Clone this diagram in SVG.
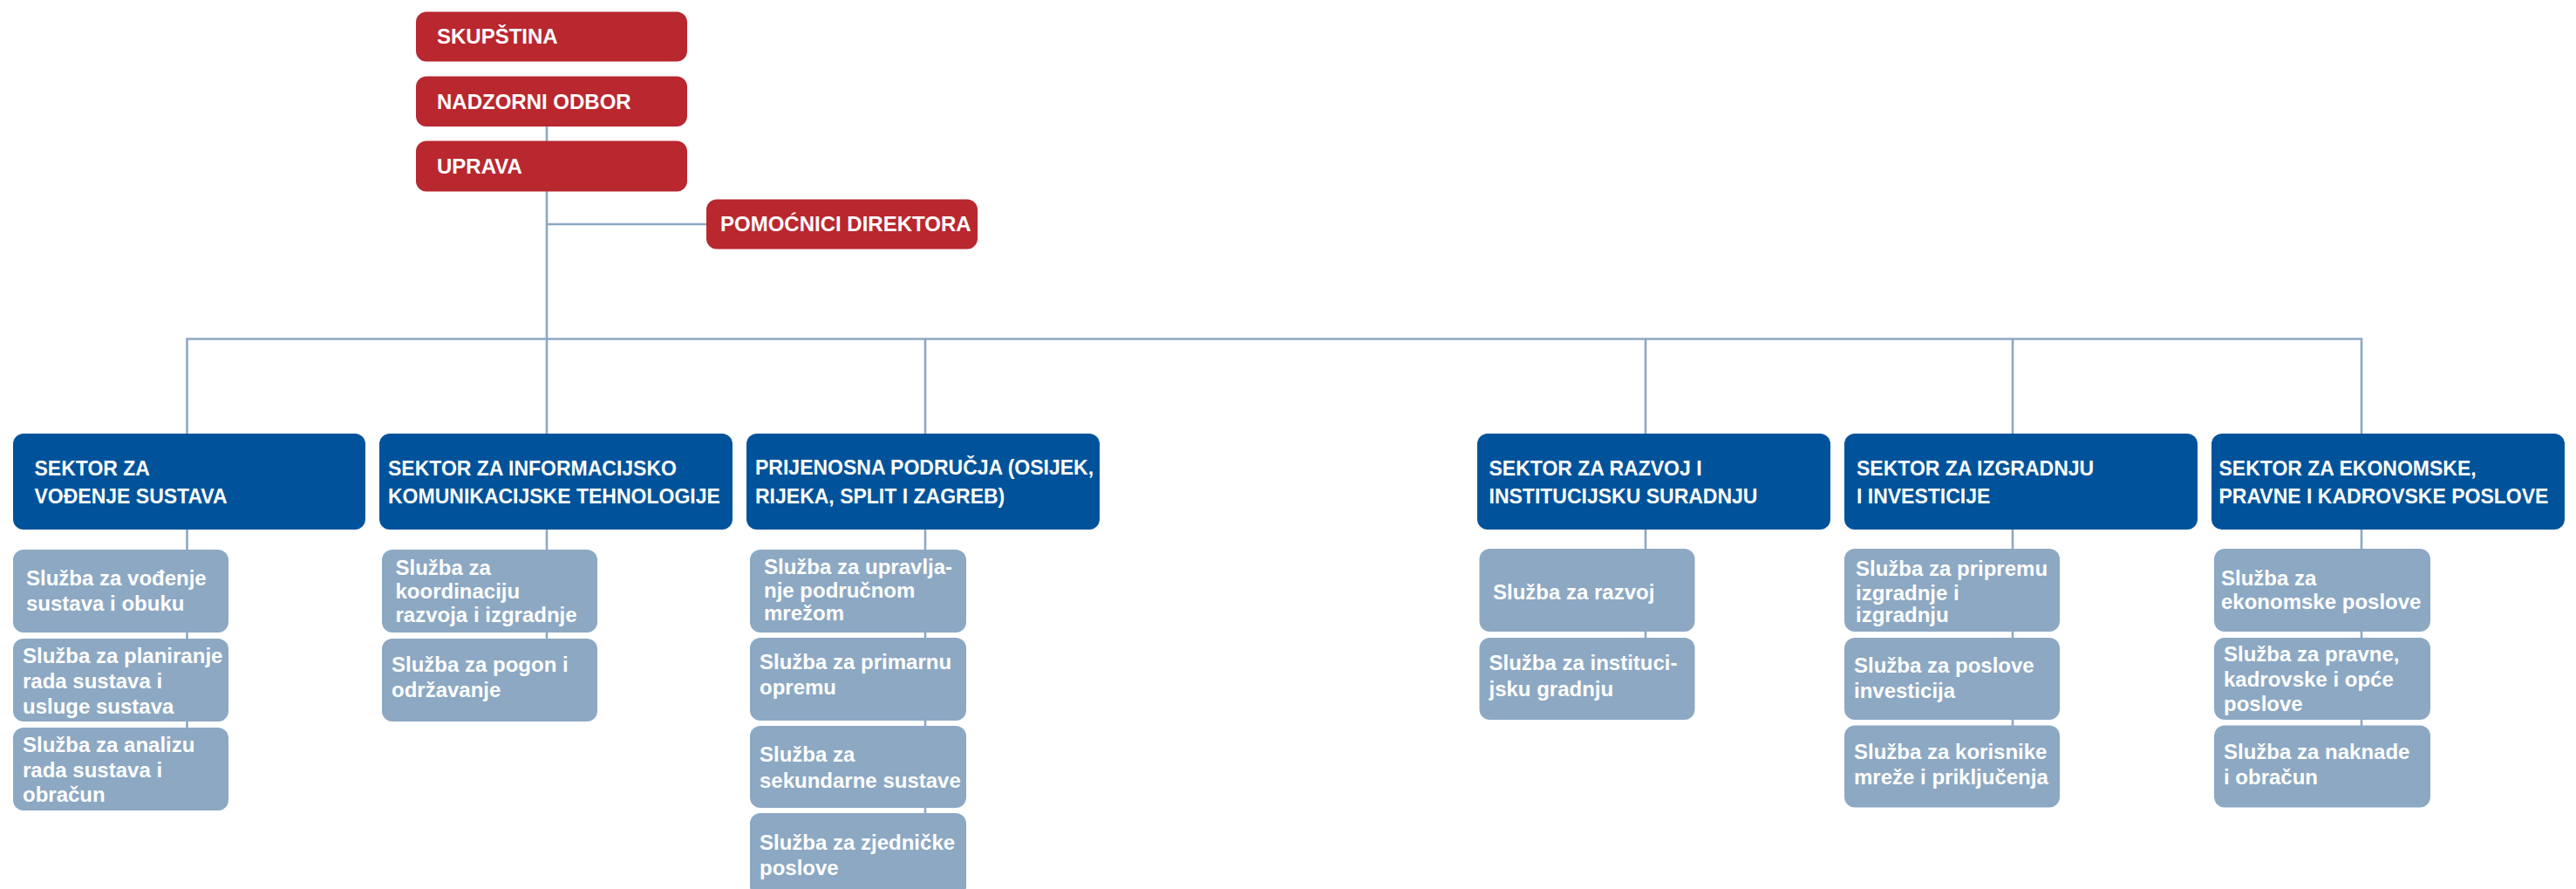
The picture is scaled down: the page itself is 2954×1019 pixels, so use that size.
<svg xmlns="http://www.w3.org/2000/svg" width="2954" height="1019" viewBox="0 0 2954 1019">
<style>
.red{fill:#b9272f}
.sec{fill:#00539a}
.srv{fill:#8ca8c3}
text{font-family:"Liberation Sans",Arial,sans-serif;font-weight:bold;fill:#ffffff}
.t24{font-size:24px}
.t23{font-size:23px}
.ln{fill:none;stroke:#8ca8c3;stroke-width:2.6}
</style>
<rect width="2954" height="1019" fill="#ffffff"/>
<g id="connectors">
<path class="ln" d="M627 145 V497"/>
<path class="ln" d="M627 257 H810"/>
<path class="ln" d="M214.5 497 V388.5 H2708 V497"/>
<path class="ln" d="M1061 388.5 V497"/>
<path class="ln" d="M1887 388.5 V497"/>
<path class="ln" d="M2308 388.5 V497"/>
<path class="ln" d="M214.5 607 V880"/>
<path class="ln" d="M627 607 V780"/>
<path class="ln" d="M1061 607 V980"/>
<path class="ln" d="M1887 607 V780"/>
<path class="ln" d="M2308 607 V880"/>
<path class="ln" d="M2708 607 V880"/>
</g>
<g id="skupstina"><rect class="red" x="477" y="13.5" width="311" height="57" rx="12"/><text class="t24" x="501" y="50">SKUPŠTINA</text></g>
<g id="nadzorni"><rect class="red" x="477" y="87.5" width="311" height="57.5" rx="12"/><text class="t24" x="501" y="124.5">NADZORNI ODBOR</text></g>
<g id="uprava"><rect class="red" x="477" y="161.5" width="311" height="58" rx="12"/><text class="t24" x="501" y="198.5">UPRAVA</text></g>
<g id="pomocnici"><rect class="red" x="810" y="228.5" width="311" height="57" rx="12"/><text class="t24" x="826" y="265">POMOĆNICI DIREKTORA</text></g>

<g id="sektor1"><rect class="sec" x="15" y="497" width="404" height="110" rx="12"/><text class="t23" x="39.5" y="545">SEKTOR ZA</text><text class="t23" x="39.5" y="577">VOĐENJE SUSTAVA</text></g>
<g id="sektor2"><rect class="sec" x="435" y="497" width="405" height="110" rx="12"/><text class="t23" x="445" y="545">SEKTOR ZA INFORMACIJSKO</text><text class="t23" x="445" y="577">KOMUNIKACIJSKE TEHNOLOGIJE</text></g>
<g id="sektor3"><rect class="sec" x="856" y="497" width="405" height="110" rx="12"/><text class="t23" x="866" y="544">PRIJENOSNA PODRUČJA (OSIJEK,</text><text class="t23" x="866" y="577">RIJEKA, SPLIT I ZAGREB)</text></g>
<g id="sektor4"><rect class="sec" x="1694" y="497" width="405" height="110" rx="12"/><text class="t23" x="1707.5" y="545">SEKTOR ZA RAZVOJ I</text><text class="t23" x="1707.5" y="577">INSTITUCIJSKU SURADNJU</text></g>
<g id="sektor5"><rect class="sec" x="2115" y="497" width="405" height="110" rx="12"/><text class="t23" x="2129" y="545">SEKTOR ZA IZGRADNJU</text><text class="t23" x="2129" y="577">I INVESTICIJE</text></g>
<g id="sektor6"><rect class="sec" x="2536" y="497" width="405" height="110" rx="12"/><text class="t23" x="2544.5" y="545">SEKTOR ZA EKONOMSKE,</text><text class="t23" x="2544.5" y="577">PRAVNE I KADROVSKE POSLOVE</text></g>

<g id="s1a"><rect class="srv" x="15" y="630" width="247" height="95" rx="12"/><text class="t24" x="30" y="671">Služba za vođenje</text><text class="t24" x="30" y="700">sustava i obuku</text></g>
<g id="s1b"><rect class="srv" x="15" y="732" width="247" height="95" rx="12"/><text class="t24" x="26" y="760">Služba za planiranje</text><text class="t24" x="26" y="789">rada sustava i</text><text class="t24" x="26" y="818">usluge sustava</text></g>
<g id="s1c"><rect class="srv" x="15" y="834" width="247" height="95" rx="12"/><text class="t24" x="26" y="862">Služba za analizu</text><text class="t24" x="26" y="890.5">rada sustava i</text><text class="t24" x="26" y="919">obračun</text></g>

<g id="s2a"><rect class="srv" x="438" y="630" width="247" height="95" rx="12"/><text class="t24" x="453.5" y="659">Služba za</text><text class="t24" x="453.5" y="686">koordinaciju</text><text class="t24" x="453.5" y="713">razvoja i izgradnje</text></g>
<g id="s2b"><rect class="srv" x="438" y="732" width="247" height="95" rx="12"/><text class="t24" x="449" y="770">Služba za pogon i</text><text class="t24" x="449" y="798.5">održavanje</text></g>

<g id="s3a"><rect class="srv" x="860" y="630" width="248" height="95" rx="12"/><text class="t24" x="876" y="658">Služba za upravlja-</text><text class="t24" x="876" y="685">nje područnom</text><text class="t24" x="876" y="711">mrežom</text></g>
<g id="s3b"><rect class="srv" x="860" y="731" width="248" height="95" rx="12"/><text class="t24" x="871" y="767">Služba za primarnu</text><text class="t24" x="871" y="796">opremu</text></g>
<g id="s3c"><rect class="srv" x="860" y="832" width="248" height="94" rx="12"/><text class="t24" x="871" y="873">Služba za</text><text class="t24" x="871" y="902.5">sekundarne sustave</text></g>
<g id="s3d"><rect class="srv" x="860" y="932" width="248" height="96" rx="12"/><text class="t24" x="871" y="974">Služba za zjedničke</text><text class="t24" x="871" y="1003">poslove</text></g>

<g id="s4a"><rect class="srv" x="1696.5" y="629" width="247" height="95" rx="12"/><text class="t24" x="1712" y="687">Služba za razvoj</text></g>
<g id="s4b"><rect class="srv" x="1696.5" y="731" width="247" height="94" rx="12"/><text class="t24" x="1707.5" y="768">Služba za instituci-</text><text class="t24" x="1707.5" y="798">jsku gradnju</text></g>

<g id="s5a"><rect class="srv" x="2115" y="629" width="247" height="95" rx="12"/><text class="t24" x="2128" y="660">Služba za pripremu</text><text class="t24" x="2128" y="687.5">izgradnje i</text><text class="t24" x="2128" y="713">izgradnju</text></g>
<g id="s5b"><rect class="srv" x="2115" y="731" width="247" height="94" rx="12"/><text class="t24" x="2126" y="771">Služba za poslove</text><text class="t24" x="2126" y="800">investicija</text></g>
<g id="s5c"><rect class="srv" x="2115" y="831.5" width="247" height="94" rx="12"/><text class="t24" x="2126" y="870">Služba za korisnike</text><text class="t24" x="2126" y="898.7">mreže i priključenja</text></g>

<g id="s6a"><rect class="srv" x="2539" y="629" width="248" height="95" rx="12"/><text class="t24" x="2547" y="671">Služba za</text><text class="t24" x="2547" y="698">ekonomske poslove</text></g>
<g id="s6b"><rect class="srv" x="2539" y="731" width="248" height="94" rx="12"/><text class="t24" x="2550" y="758">Služba za pravne,</text><text class="t24" x="2550" y="787">kadrovske i opće</text><text class="t24" x="2550" y="815">poslove</text></g>
<g id="s6c"><rect class="srv" x="2539" y="831.5" width="248" height="94" rx="12"/><text class="t24" x="2550" y="870">Služba za naknade</text><text class="t24" x="2550" y="899">i obračun</text></g>
</svg>
